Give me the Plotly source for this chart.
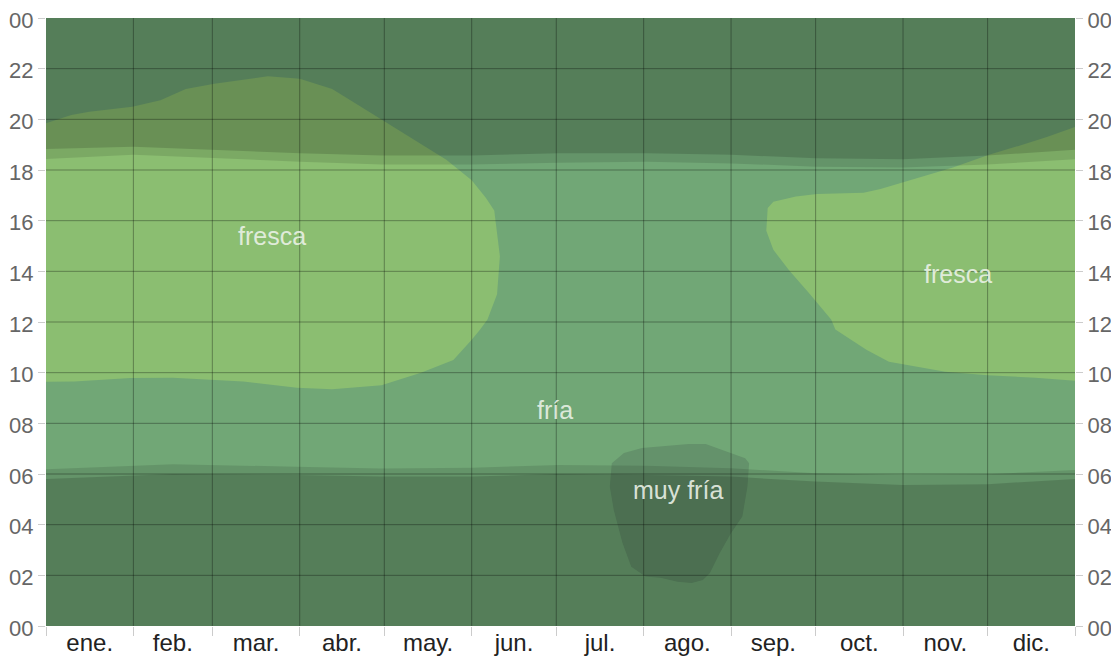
import plotly.graph_objects as go

# ---- axes data ----
month_starts = [0, 31, 59, 90, 120, 151, 181, 212, 243, 273, 304, 334, 365]
month_labels = ["ene.", "feb.", "mar.", "abr.", "may.", "jun.", "jul.", "ago.", "sep.", "oct.", "nov.", "dic."]
hour_ticks = list(range(0, 25, 2))
hour_labels = ["%02d" % (h % 24) for h in hour_ticks]

# ---- temperature category regions (day of year, hour of day) ----
fresca1_day = [0, 9, 15.4, 30.6, 40.6, 49.6, 59.7, 78.7, 90, 101.5, 111.7, 119, 129, 142, 151, 156, 159, 161, 160, 156.6,
               154, 151, 144.5, 133, 119, 101.5, 89, 70, 45, 30, 10, 0]
fresca1_hour = [19.85, 20.17, 20.3, 20.5, 20.75, 21.2, 21.4, 21.7, 21.6, 21.2, 20.5, 20.0, 19.3, 18.4, 17.6, 16.9, 16.4, 14.6, 13.1, 12.1,
                11.7, 11.3, 10.5, 10.0, 9.5, 9.35, 9.4, 9.65, 9.8, 9.79, 9.65, 9.64]

fresca2_day = [365, 355, 345, 334.5, 321.7, 304, 296, 290, 273.5, 266, 258, 256, 255.5, 258, 263.5, 271, 278.5,
               280, 284, 291, 299, 309, 319, 334, 351, 365]
fresca2_hour = [19.7, 19.3, 18.95, 18.6, 18.1, 17.5, 17.25, 17.1, 17.05, 16.95, 16.75, 16.5, 15.6, 14.85, 14.05, 13.1, 12.1,
                11.7, 11.4, 10.9, 10.43, 10.24, 10.04, 9.9, 9.8, 9.68]

muyfria_day = [200.7, 205, 211.4, 220, 228, 234, 241.9, 248, 249.4, 248.8, 247, 243, 239, 235.5, 233, 229, 224, 218,
               212.7, 207.6, 204.5, 201.4, 200, 200.7]
muyfria_hour = [6.42, 6.83, 7.03, 7.1, 7.18, 7.18, 6.88, 6.62, 6.42, 5.5, 4.32, 3.67, 2.88, 2.09, 1.82, 1.7, 1.75, 1.9,
                1.95, 2.34, 3.28, 4.58, 5.5, 6.42]

# ---- sun: twilight / night boundaries ----
eve_day = [0, 31, 90, 119, 151, 182, 213, 243, 273, 304, 334, 365]
eve_twilight = [18.43, 18.6, 18.33, 18.22, 18.22, 18.29, 18.33, 18.26, 18.13, 18.1, 18.22, 18.42]
eve_night = [18.83, 18.92, 18.66, 18.57, 18.57, 18.66, 18.66, 18.6, 18.46, 18.42, 18.57, 18.8]
morn_day = [0, 45, 89, 119, 151, 182, 213, 243, 273, 304, 334, 365]
morn_twilight = [6.19, 6.38, 6.29, 6.22, 6.25, 6.36, 6.33, 6.23, 6.03, 5.96, 5.99, 6.16]
morn_night = [5.8, 6.0, 5.96, 5.9, 5.9, 6.0, 5.96, 5.9, 5.7, 5.57, 5.6, 5.8]

labels = [("fresca", 80, 15.4), ("fresca", 323.5, 13.9), ("fría", 180.6, 8.53), ("muy fría", 224, 5.37)]

C_FRIA = "#71a776"
C_FRESCA = "#8bbe71"
C_MUY = "#64926b"
FONT = "Liberation Sans, Arial"

fig = go.Figure()

def region(xs, ys, color):
    fig.add_trace(go.Scatter(x=xs, y=ys, fill="toself", fillcolor=color, mode="lines",
                             line=dict(width=0, color=color), hoverinfo="skip", showlegend=False))

region(fresca1_day, fresca1_hour, C_FRESCA)
region(fresca2_day, fresca2_hour, C_FRESCA)
region(muyfria_day, muyfria_hour, C_MUY)

TW = "rgba(0,0,0,0.11)"
NI = "rgba(0,0,0,0.145)"
# evening
region(eve_day + [365, 0], eve_twilight + [24, 24], TW)
region(eve_day + [365, 0], eve_night + [24, 24], NI)
# morning
region(morn_day + [365, 0], morn_twilight + [0, 0], TW)
region(morn_day + [365, 0], morn_night + [0, 0], NI)

# invisible trace for right axis
fig.add_trace(go.Scatter(x=[0, 365], y=[0, 24], yaxis="y2", mode="markers",
                         marker=dict(opacity=0), hoverinfo="skip", showlegend=False))

# grid lines above the fills
for d in month_starts[1:-1]:
    fig.add_shape(type="line", xref="x", yref="y", x0=d, x1=d, y0=0, y1=24,
                  line=dict(color="rgba(0,0,0,0.33)", width=1), layer="above")
for h in hour_ticks[1:-1]:
    fig.add_shape(type="line", xref="x", yref="y", x0=0, x1=365, y0=h, y1=h,
                  line=dict(color="rgba(0,0,0,0.33)", width=1), layer="above")

for text, d, h in labels:
    fig.add_annotation(x=d, y=h, text=text, showarrow=False,
                       font=dict(family=FONT, size=25, color="rgba(235,242,232,0.9)"))

mids = [(month_starts[i] + month_starts[i + 1]) / 2 for i in range(12)]

yaxis_common = dict(range=[0, 24], tickvals=hour_ticks, ticktext=hour_labels, showgrid=False, zeroline=False,
                    ticks="outside", ticklen=7, tickcolor="#cccccc", automargin=False,
                    ticklabeloverflow="allow", ticklabelshift=2,
                    tickfont=dict(family=FONT, size=22, color="#666666"), fixedrange=True)

# the page body adds an 8px offset, so the figure is sized to end at the window edge
fig.update_layout(
    width=1111, height=654,
    margin=dict(l=38, r=44, t=10, b=36, autoexpand=False),
    paper_bgcolor="white",
    plot_bgcolor=C_FRIA,
    xaxis=dict(range=[0, 365], tickvals=mids, ticktext=month_labels, ticks="", showgrid=False, zeroline=False,
               automargin=False, ticklabeloverflow="allow",
               tickfont=dict(family=FONT, size=24, color="#222222"),
               minor=dict(tickvals=month_starts, ticks="outside", ticklen=9, tickcolor="#cccccc", showgrid=False)),
    yaxis=dict(**yaxis_common, side="left"),
    yaxis2=dict(**yaxis_common, side="right", overlaying="y"),
    showlegend=False,
)

fig.write_html("out.html")
